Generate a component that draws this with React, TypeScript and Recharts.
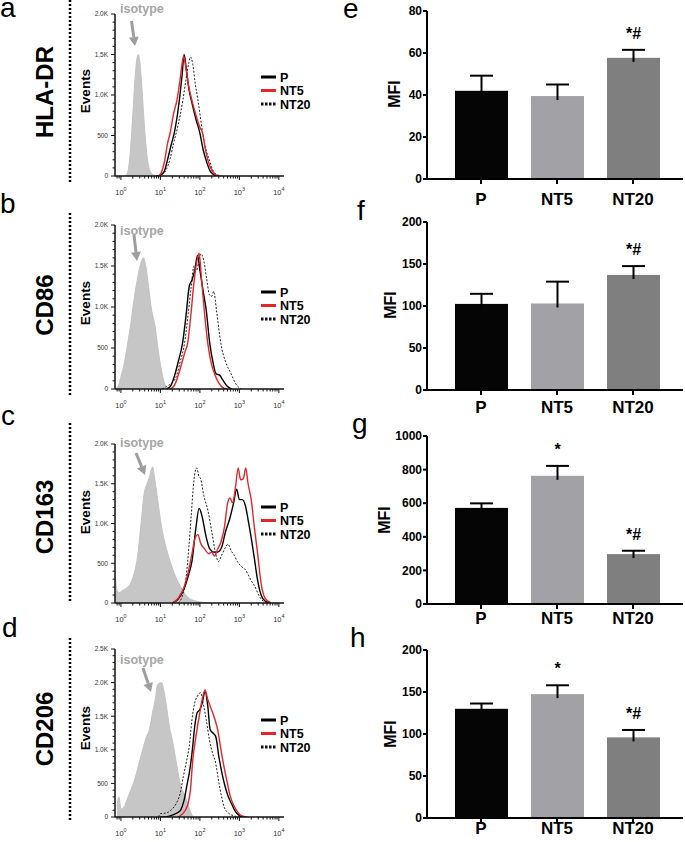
import React from "react";
import { Area, Bar, BarChart, ComposedChart, Line, XAxis, YAxis } from "recharts";

type Pt = [number, number];

// histogram traces: [log10 fluorescence, events]
const hlaIso: Pt[] = [[0.08, 0], [0.15, 20], [0.2, 120], [0.25, 380], [0.3, 750], [0.35, 1150], [0.4, 1430], [0.44, 1500], [0.48, 1400], [0.53, 1100], [0.58, 720], [0.63, 400], [0.68, 180], [0.74, 60], [0.82, 15], [0.92, 0]];
const hlaP: Pt[] = [[0.9, 0], [1.0, 10], [1.1, 60], [1.18, 200], [1.27, 380], [1.35, 530], [1.42, 720], [1.48, 940], [1.55, 1250], [1.6, 1500], [1.66, 1300], [1.72, 1080], [1.8, 900], [1.9, 700], [2.0, 530], [2.08, 330], [2.16, 190], [2.25, 70], [2.35, 15], [2.45, 0]];
const hlaNT5: Pt[] = [[0.95, 0], [1.02, 40], [1.1, 170], [1.18, 400], [1.25, 540], [1.33, 760], [1.42, 940], [1.5, 1200], [1.56, 1420], [1.59, 1480], [1.64, 1350], [1.72, 1100], [1.8, 930], [1.9, 750], [2.0, 600], [2.07, 530], [2.14, 330], [2.2, 200], [2.3, 70], [2.4, 15], [2.5, 0]];
const hlaNT20: Pt[] = [[0.95, 0], [1.05, 20], [1.15, 80], [1.25, 220], [1.33, 400], [1.4, 530], [1.5, 750], [1.57, 940], [1.65, 1200], [1.72, 1400], [1.76, 1470], [1.82, 1380], [1.88, 1150], [1.95, 940], [2.02, 700], [2.07, 530], [2.15, 330], [2.24, 200], [2.32, 80], [2.42, 20], [2.55, 0]];

const cd86Iso: Pt[] = [[-0.12, 0], [-0.05, 60], [0.0, 150], [0.08, 300], [0.16, 520], [0.25, 800], [0.33, 1080], [0.42, 1350], [0.5, 1530], [0.57, 1600], [0.63, 1500], [0.7, 1250], [0.78, 950], [0.86, 780], [0.93, 520], [1.0, 300], [1.06, 150], [1.12, 50], [1.2, 0]];
const cd86P: Pt[] = [[1.15, 0], [1.25, 30], [1.35, 150], [1.45, 330], [1.56, 557], [1.65, 900], [1.73, 1250], [1.8, 1330], [1.87, 1450], [1.94, 1630], [2.0, 1450], [2.08, 1200], [2.16, 963], [2.25, 557], [2.33, 330], [2.41, 185], [2.5, 170], [2.58, 110], [2.68, 40], [2.8, 0]];
const cd86NT5: Pt[] = [[1.25, 0], [1.35, 40], [1.44, 150], [1.55, 330], [1.62, 450], [1.69, 557], [1.77, 900], [1.85, 1300], [1.92, 1550], [1.98, 1655], [2.04, 1350], [2.11, 963], [2.2, 557], [2.28, 330], [2.37, 185], [2.47, 80], [2.57, 20], [2.68, 0]];
const cd86NT20: Pt[] = [[1.05, 0], [1.15, 30], [1.28, 70], [1.4, 150], [1.5, 330], [1.61, 557], [1.7, 900], [1.78, 1250], [1.85, 1500], [1.92, 1450], [1.97, 1550], [2.03, 1650], [2.1, 1560], [2.17, 1350], [2.24, 1150], [2.3, 1130], [2.35, 1190], [2.42, 960], [2.53, 557], [2.65, 330], [2.79, 185], [2.9, 70], [3.04, 0]];

const cd163Iso: Pt[] = [[-0.14, 330], [-0.1, 160], [-0.05, 130], [0.05, 160], [0.15, 190], [0.25, 250], [0.34, 380], [0.42, 580], [0.51, 1000], [0.59, 1380], [0.66, 1500], [0.72, 1580], [0.8, 1710], [0.86, 1550], [0.93, 1300], [1.0, 1050], [1.1, 780], [1.2, 600], [1.35, 375], [1.45, 260], [1.56, 160], [1.7, 70], [1.86, 30], [2.05, 10], [2.3, 0]];
const cd163P: Pt[] = [[1.3, 0], [1.45, 50], [1.6, 180], [1.7, 330], [1.8, 530], [1.9, 950], [1.98, 1190], [2.05, 1100], [2.15, 850], [2.25, 680], [2.35, 640], [2.45, 640], [2.55, 700], [2.65, 900], [2.75, 1050], [2.85, 1250], [2.93, 1430], [3.0, 1300], [3.07, 1300], [3.15, 1230], [3.22, 1050], [3.3, 820], [3.38, 560], [3.45, 320], [3.55, 100], [3.65, 25], [3.8, 0]];
const cd163NT5: Pt[] = [[1.3, 0], [1.45, 60], [1.6, 200], [1.7, 380], [1.8, 620], [1.88, 820], [1.95, 860], [2.02, 750], [2.12, 680], [2.22, 620], [2.3, 640], [2.37, 590], [2.45, 680], [2.53, 760], [2.62, 950], [2.7, 1250], [2.76, 1320], [2.83, 1260], [2.9, 1450], [2.97, 1700], [3.03, 1550], [3.1, 1560], [3.16, 1700], [3.22, 1500], [3.3, 1300], [3.38, 950], [3.46, 630], [3.55, 250], [3.65, 60], [3.8, 0]];
const cd163NT20: Pt[] = [[1.45, 0], [1.55, 80], [1.65, 320], [1.72, 700], [1.78, 1100], [1.85, 1550], [1.92, 1700], [1.97, 1600], [2.02, 1560], [2.1, 1350], [2.2, 1170], [2.3, 900], [2.4, 620], [2.47, 520], [2.55, 600], [2.65, 700], [2.71, 740], [2.8, 650], [2.87, 600], [2.95, 520], [3.05, 460], [3.15, 420], [3.22, 360], [3.3, 280], [3.38, 220], [3.47, 120], [3.55, 50], [3.7, 0]];

const cd206Iso: Pt[] = [[-0.1, 150], [-0.05, 300], [0.0, 120], [0.08, 150], [0.15, 250], [0.25, 400], [0.35, 560], [0.45, 780], [0.55, 1000], [0.65, 1200], [0.72, 1300], [0.8, 1550], [0.87, 1750], [0.93, 1970], [1.03, 2000], [1.08, 1900], [1.14, 1700], [1.23, 1340], [1.3, 1150], [1.37, 920], [1.45, 650], [1.52, 450], [1.6, 350], [1.69, 200], [1.76, 80], [1.82, 0]];
const cd206P: Pt[] = [[1.0, 0], [1.2, 10], [1.35, 40], [1.45, 70], [1.52, 110], [1.6, 250], [1.68, 500], [1.73, 650], [1.8, 950], [1.87, 1350], [1.93, 1550], [2.0, 1600], [2.06, 1700], [2.13, 1870], [2.2, 1650], [2.26, 1300], [2.33, 1250], [2.4, 1200], [2.48, 900], [2.56, 650], [2.64, 450], [2.72, 300], [2.8, 200], [2.9, 80], [3.0, 20], [3.1, 0]];
const cd206NT5: Pt[] = [[1.45, 0], [1.55, 40], [1.63, 100], [1.7, 200], [1.76, 400], [1.82, 850], [1.9, 1200], [1.98, 1490], [2.06, 1750], [2.13, 1890], [2.2, 1750], [2.28, 1620], [2.37, 1470], [2.45, 1300], [2.52, 1050], [2.6, 780], [2.68, 550], [2.76, 330], [2.85, 180], [2.95, 80], [3.05, 20], [3.2, 0]];
const cd206NT20: Pt[] = [[0.95, 0], [1.0, 50], [1.15, 60], [1.3, 120], [1.4, 200], [1.5, 350], [1.58, 600], [1.65, 800], [1.73, 1050], [1.8, 1450], [1.87, 1700], [1.94, 1800], [2.02, 1850], [2.08, 1700], [2.16, 1450], [2.24, 1150], [2.32, 950], [2.4, 800], [2.47, 550], [2.55, 300], [2.62, 140], [2.72, 60], [2.85, 20], [3.0, 0]];

// MFI bar panels
const groups = ["P", "NT5", "NT20"];
const hlaMfi = [42, 39.5, 57.7];
const hlaMfiErr = [49.2, 45, 61.5];
const cd86Mfi = [102.5, 103, 137];
const cd86MfiErr = [114.5, 129, 147.5];
const cd163Mfi = [572, 763, 297];
const cd163MfiErr = [599, 822, 317];
const cd206Mfi = [130, 147.5, 96];
const cd206MfiErr = [136.3, 158, 104.8];
const sigE = ["", "", "*#"];
const sigF = ["", "", "*#"];
const sigG = ["", "*", "*#"];
const sigH = ["", "*", "*#"];
const ticksE = [0, 20, 40, 60, 80];
const ticksF = [0, 50, 100, 150, 200];
const ticksG = [0, 200, 400, 600, 800, 1000];
const ticksH = [0, 50, 100, 150, 200];

const barColors = ["#050505", "#a2a2a6", "#7f7f7f"];
const RED = "#e2262b";
const FONT = "'Liberation Sans', Arial, sans-serif";

const majorDecades = [0, 1, 2, 3, 4];
const logTicks: number[] = [];
for (const d of [-1, 0, 1, 2, 3]) {
  for (let m = 1; m <= 9; m++) {
    const v = d + Math.log10(m);
    if (v >= -0.15 && v <= 4.13) logTicks.push(v);
  }
}
logTicks.push(4);

const toXY = (pts: Pt[]) => pts.map(([x, y]) => ({ x, y }));

function LogTick(props: any) {
  const { x, y, payload } = props;
  const v = payload.value as number;
  const major = majorDecades.some((d) => Math.abs(d - v) < 1e-6);
  return (
    <g>
      <line x1={x} x2={x} y1={y} y2={y + (major ? 4 : 2.5)} stroke="#111" strokeWidth={1} />
      {major && (
        <text x={x} y={y + 18.5} textAnchor="middle" fontSize={7.5} fill="#333">
          10
          <tspan dy={-4} fontSize={5.5}>
            {Math.round(v)}
          </tspan>
        </text>
      )}
    </g>
  );
}

function CountTick(props: any) {
  const { x, y, payload } = props;
  const v = payload.value as number;
  const major = v % 500 === 0;
  const label = v === 0 ? "0" : v < 1000 ? String(v) : `${(v / 1000).toFixed(1)}K`;
  return (
    <g>
      <line x1={x - (major ? 4 : 2.5)} x2={x} y1={y} y2={y} stroke="#111" strokeWidth={1} />
      {major && (
        <text x={x - 7} y={y + 2.3} textAnchor="end" fontSize={6.5} fill="#333">
          {label}
        </text>
      )}
    </g>
  );
}

type HistProps = { plotTop: number; plotH: number; yMax: number; iso: Pt[]; p: Pt[]; nt5: Pt[]; nt20: Pt[] };

function Histogram({ plotTop, plotH, yMax, iso, p, nt5, nt20 }: HistProps) {
  const yTicks: number[] = [];
  for (let v = 0; v <= yMax; v += 100) yTicks.push(v);
  return (
    <div style={{ position: "absolute", left: 0, top: plotTop - 10 }}>
      <ComposedChart width={300} height={plotH + 35} margin={{ top: 10, right: 16, bottom: 0, left: 0 }}>
        <XAxis
          type="number"
          dataKey="x"
          domain={[-0.15, 4.13]}
          ticks={logTicks}
          interval={0}
          allowDataOverflow
          height={25}
          tickSize={0}
          tickMargin={0}
          tick={<LogTick />}
          axisLine={{ stroke: "#111", strokeWidth: 1.5 }}
        />
        <YAxis
          type="number"
          domain={[0, yMax]}
          ticks={yTicks}
          interval={0}
          allowDataOverflow
          width={115}
          tickSize={0}
          tickMargin={0}
          tick={<CountTick />}
          axisLine={{ stroke: "#111", strokeWidth: 1.5 }}
        />
        <Area data={toXY(iso)} dataKey="y" type="monotone" fill="#c6c6c6" fillOpacity={1} stroke="#c2c2c2" strokeWidth={1} dot={false} activeDot={false} isAnimationActive={false} />
        <Line data={toXY(nt20)} dataKey="y" type="monotone" stroke="#222" strokeWidth={1} strokeDasharray="2 1.6" dot={false} activeDot={false} isAnimationActive={false} />
        <Line data={toXY(p)} dataKey="y" type="monotone" stroke="#000" strokeWidth={1.4} dot={false} activeDot={false} isAnimationActive={false} />
        <Line data={toXY(nt5)} dataKey="y" type="monotone" stroke={RED} strokeWidth={1.4} dot={false} activeDot={false} isAnimationActive={false} />
      </ComposedChart>
    </div>
  );
}

function ErrBarShape(props: any) {
  const { x, y, width, height, payload, index } = props;
  const ppu = height / payload.mean;
  const yErr = y - (payload.err - payload.mean) * ppu;
  const cx = x + width / 2;
  return (
    <g>
      <rect x={x} y={y} width={width} height={height} fill={barColors[index]} />
      <line x1={cx} x2={cx} y1={y + 4} y2={yErr} stroke="#000" strokeWidth={2} />
      <line x1={cx - 11.5} x2={cx + 11.5} y1={yErr} y2={yErr} stroke="#000" strokeWidth={2} />
      {payload.sig && (
        <text x={cx} y={yErr - 11} textAnchor="middle" fontSize={16} fontWeight={700} fill="#000">
          {payload.sig}
        </text>
      )}
    </g>
  );
}

type MfiProps = { plotTop: number; means: number[]; errs: number[]; sigs: string[]; ticks: number[]; labelGap: number };

function MfiPanel({ plotTop, means, errs, sigs, ticks, labelGap }: MfiProps) {
  const data = groups.map((name, i) => ({ name, mean: means[i], err: errs[i], sig: sigs[i] }));
  const plotH = 168;
  return (
    <div style={{ position: "absolute", left: 340, top: plotTop - 10 }}>
      <BarChart width={345} height={plotH + 45} data={data} margin={{ top: 10, right: 2, bottom: 0, left: 0 }}>
        <XAxis
          dataKey="name"
          padding={{ left: 16, right: 12 }}
          height={35}
          interval={0}
          tickSize={5}
          tickMargin={labelGap}
          tick={{ fontSize: 17, fontWeight: 700, fill: "#000" }}
          axisLine={{ stroke: "#000", strokeWidth: 2 }}
          tickLine={{ stroke: "#000", strokeWidth: 2 }}
        />
        <YAxis
          type="number"
          domain={[0, ticks[ticks.length - 1]]}
          ticks={ticks}
          interval={0}
          width={87}
          tickSize={4}
          tickMargin={1}
          tick={{ fontSize: 12, fontWeight: 700, fill: "#000" }}
          axisLine={{ stroke: "#000", strokeWidth: 2 }}
          tickLine={{ stroke: "#000", strokeWidth: 2 }}
        />
        <Bar dataKey="mean" barSize={53} shape={<ErrBarShape />} isAnimationActive={false} />
      </BarChart>
    </div>
  );
}

function Arrow({ x1, y1, x2, y2 }: { x1: number; y1: number; x2: number; y2: number }) {
  const a = Math.atan2(y2 - y1, x2 - x1);
  const hl = 9;
  const hw = 5;
  const bx = x2 - hl * Math.cos(a);
  const by = y2 - hl * Math.sin(a);
  const px = -Math.sin(a) * hw;
  const py = Math.cos(a) * hw;
  return (
    <g>
      <line x1={x1} y1={y1} x2={bx} y2={by} stroke="#9e9e9e" strokeWidth={3} />
      <polygon points={`${x2},${y2} ${bx + px},${by + py} ${bx - px},${by - py}`} fill="#9e9e9e" />
    </g>
  );
}

function HistLegend({ y }: { y: number }) {
  const rows = [
    { label: "P", color: "#000", dash: undefined },
    { label: "NT5", color: RED, dash: undefined },
    { label: "NT20", color: "#111", dash: "2.5 1.5" },
  ];
  return (
    <g>
      {rows.map((r, i) => (
        <g key={r.label}>
          <line x1={261} x2={276} y1={y + i * 13.5} y2={y + i * 13.5} stroke={r.color} strokeWidth={3} strokeDasharray={r.dash} />
          <text x={280} y={y + i * 13.5 + 4.5} fontSize={12.5} fontWeight={700} fill="#000">
            {r.label}
          </text>
        </g>
      ))}
    </g>
  );
}

const markers = [
  { name: "HLA-DR", cy: 92, events: 91, dotTop: 0, dotBottom: 182, iso: 8, arrow: [131.5, 21, 135, 46], legend: 77 },
  { name: "CD86", cy: 305, events: 303, dotTop: 213, dotBottom: 395, iso: 230, arrow: [134, 235, 137, 261], legend: 292 },
  { name: "CD163", cy: 517, events: 512, dotTop: 423, dotBottom: 603, iso: 442, arrow: [136, 453, 145, 475], legend: 507 },
  { name: "CD206", cy: 729, events: 728, dotTop: 638, dotBottom: 820, iso: 659, arrow: [143, 668, 151, 692], legend: 720 },
];

const panelLetters = [
  { t: "a", x: 0, y: 17 },
  { t: "b", x: 0, y: 213 },
  { t: "c", x: 1, y: 425 },
  { t: "d", x: 2, y: 637 },
  { t: "e", x: 343, y: 18 },
  { t: "f", x: 357, y: 220 },
  { t: "g", x: 352, y: 433 },
  { t: "h", x: 350, y: 647 },
];

const mfiLabels = [
  { x: 400, cy: 94 },
  { x: 396, cy: 305 },
  { x: 390, cy: 520 },
  { x: 396, cy: 734 },
];

export default function App() {
  return (
    <div style={{ position: "absolute", left: 0, top: 0, width: 685, height: 842, background: "#fff", fontFamily: FONT }}>
      <Histogram plotTop={14} plotH={162} yMax={2000} iso={hlaIso} p={hlaP} nt5={hlaNT5} nt20={hlaNT20} />
      <Histogram plotTop={225} plotH={164} yMax={2000} iso={cd86Iso} p={cd86P} nt5={cd86NT5} nt20={cd86NT20} />
      <Histogram plotTop={444} plotH={159} yMax={2000} iso={cd163Iso} p={cd163P} nt5={cd163NT5} nt20={cd163NT20} />
      <Histogram plotTop={649} plotH={168} yMax={2500} iso={cd206Iso} p={cd206P} nt5={cd206NT5} nt20={cd206NT20} />

      <MfiPanel plotTop={11} means={hlaMfi} errs={hlaMfiErr} sigs={sigE} ticks={ticksE} labelGap={8.5} />
      <MfiPanel plotTop={222} means={cd86Mfi} errs={cd86MfiErr} sigs={sigF} ticks={ticksF} labelGap={6} />
      <MfiPanel plotTop={436} means={cd163Mfi} errs={cd163MfiErr} sigs={sigG} ticks={ticksG} labelGap={2.5} />
      <MfiPanel plotTop={650} means={cd206Mfi} errs={cd206MfiErr} sigs={sigH} ticks={ticksH} labelGap={-1.5} />

      <svg width={685} height={842} style={{ position: "absolute", left: 0, top: 0, pointerEvents: "none" }}>
        {panelLetters.map((p) => (
          <text key={p.t} x={p.x} y={p.y} fontSize={28} fill="#000">
            {p.t}
          </text>
        ))}
        {markers.map((m) => (
          <g key={m.name}>
            <text transform={`translate(53, ${m.cy}) rotate(-90)`} textAnchor="middle" fontSize={24} fontWeight={700} fill="#000">
              {m.name}
            </text>
            <line x1={70} x2={70} y1={m.dotTop} y2={m.dotBottom} stroke="#000" strokeWidth={2.5} strokeDasharray="2 2" />
            <text transform={`translate(90, ${m.events}) rotate(-90)`} textAnchor="middle" fontSize={13.5} fontWeight={700} fill="#000">
              Events
            </text>
            <text x={120} y={m.iso + 4.5} fontSize={12.5} fontWeight={700} fill="#a6a6a6">
              isotype
            </text>
            <Arrow x1={m.arrow[0]} y1={m.arrow[1]} x2={m.arrow[2]} y2={m.arrow[3]} />
            <HistLegend y={m.legend} />
          </g>
        ))}
        {mfiLabels.map((l, i) => (
          <text key={i} transform={`translate(${l.x}, ${l.cy}) rotate(-90)`} textAnchor="middle" fontSize={16} fontWeight={700} fill="#000">
            MFI
          </text>
        ))}
      </svg>
    </div>
  );
}
